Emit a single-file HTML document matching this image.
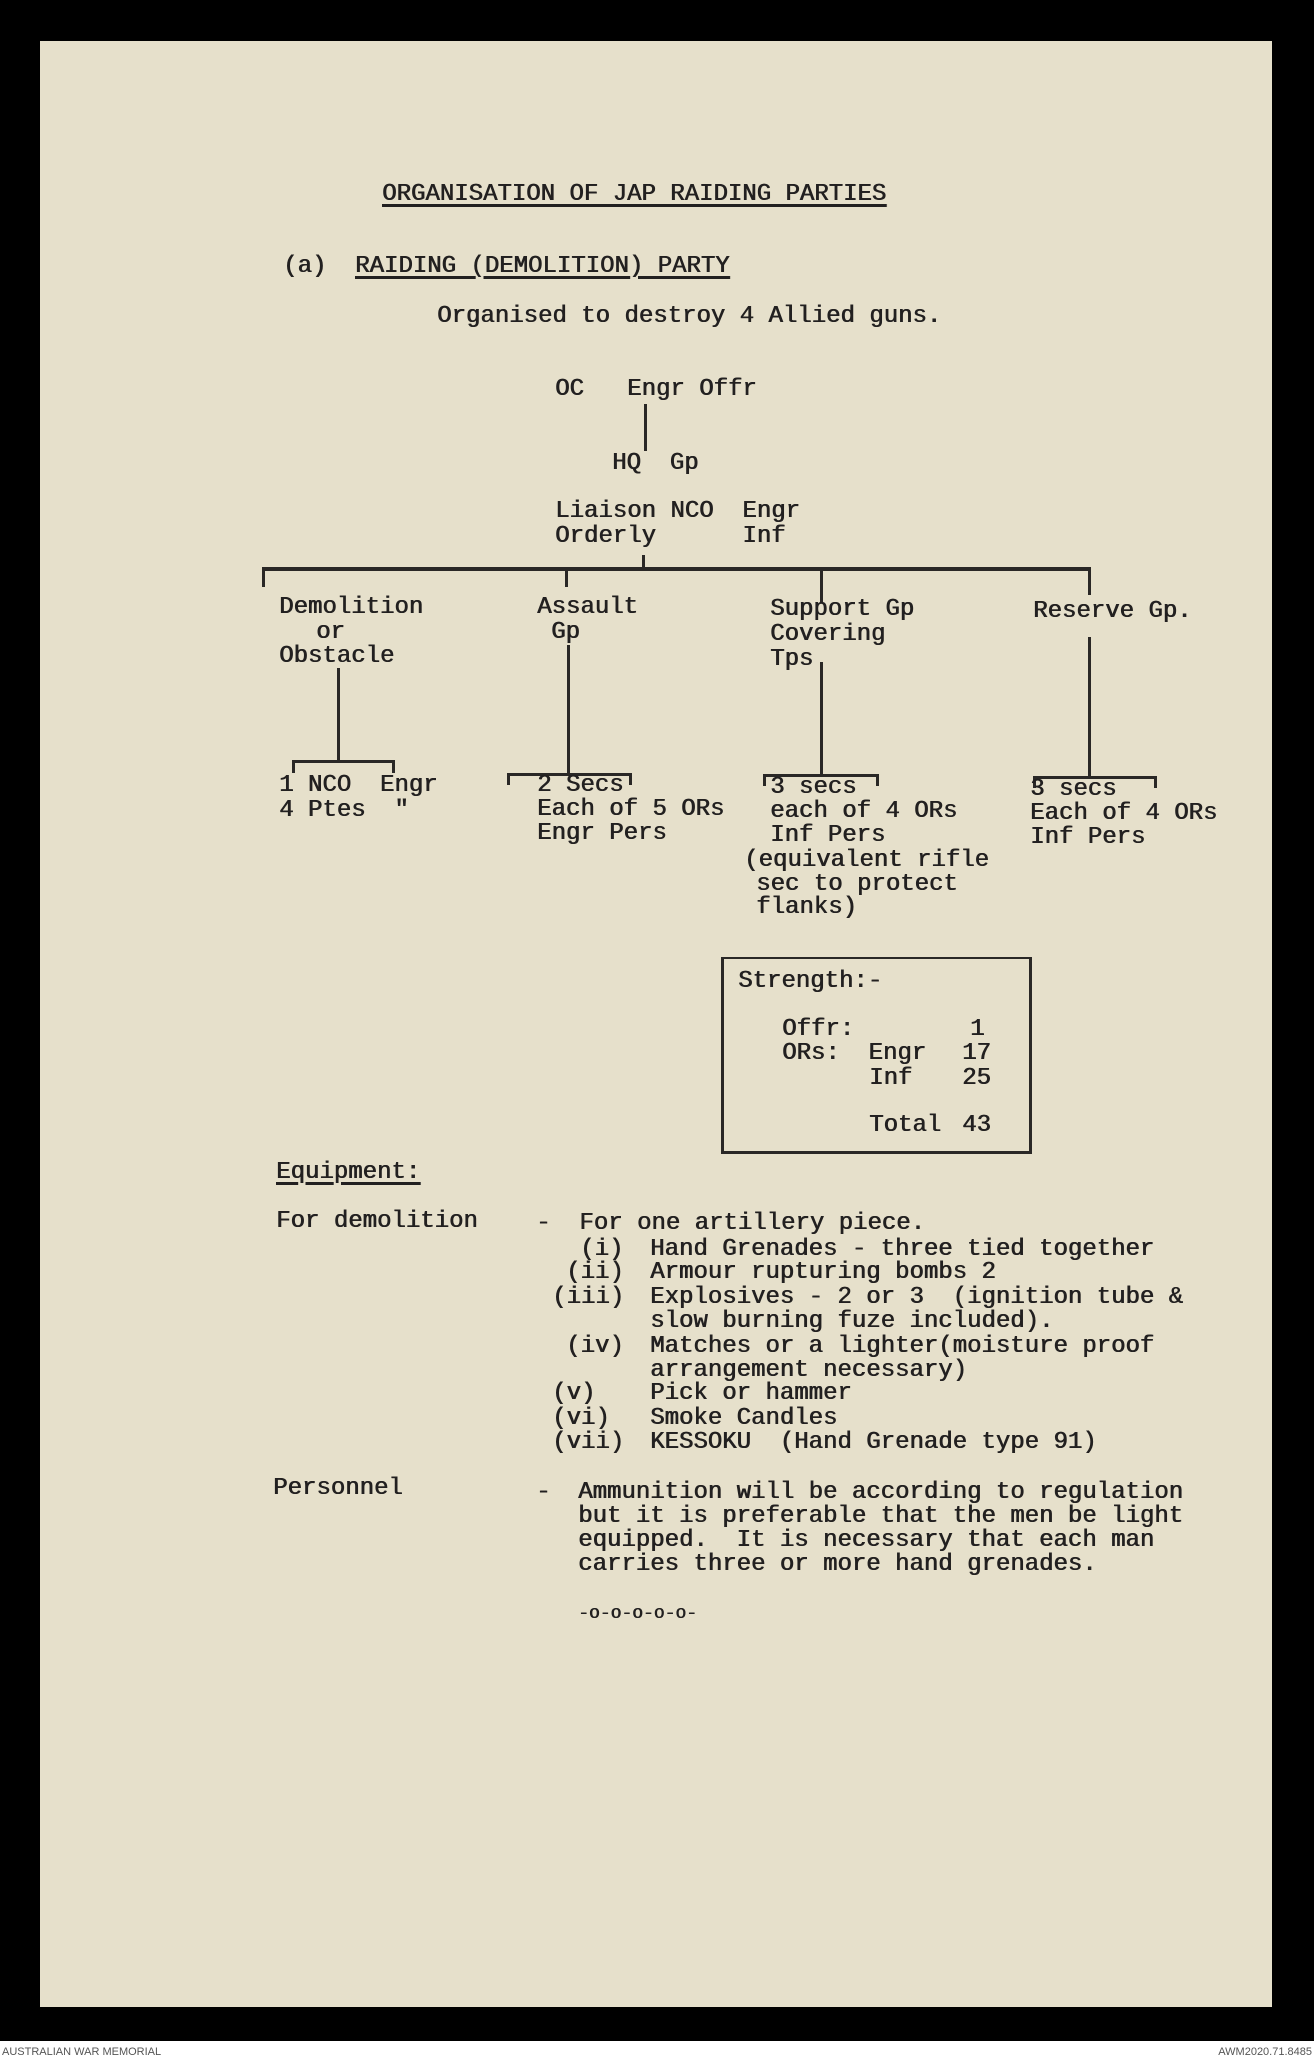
<!DOCTYPE html>
<html><head><meta charset="utf-8">
<style>
html,body{margin:0;padding:0;}
body{width:1314px;height:2061px;background:#000;position:relative;overflow:hidden;}
#paper{position:absolute;left:40px;top:41px;width:1232px;height:1966px;background:#e6e0cb;}
.t{position:absolute;font-family:"Liberation Mono",monospace;font-size:24px;line-height:24px;color:#222020;white-space:pre;text-shadow:0.7px 0 0 #222020;}
.u{text-decoration:underline;text-decoration-thickness:3px;text-underline-offset:4px;}
.l{position:absolute;background:#2a2826;}
#foot{position:absolute;left:0;top:2041px;width:1314px;height:20px;background:#fff;}
.f{position:absolute;top:2046px;font-family:"Liberation Sans",sans-serif;font-size:11px;color:#555;}
</style></head><body>
<div id="paper"></div>

<div class="t u" style="left:382px;top:183px;">ORGANISATION OF JAP RAIDING PARTIES</div>
<div class="t" style="left:283px;top:255px;">(a)</div>
<div class="t u" style="left:355px;top:255px;">RAIDING (DEMOLITION) PARTY</div>
<div class="t" style="left:437px;top:305px;">Organised to destroy 4 Allied guns.</div>

<div class="t" style="left:555px;top:378px;">OC   Engr Offr</div>
<div class="l" style="left:644px;top:404px;width:3px;height:47px;"></div>
<div class="t" style="left:612px;top:452px;">HQ  Gp</div>
<div class="t" style="left:555px;top:500px;">Liaison NCO  Engr</div>
<div class="t" style="left:555px;top:525px;">Orderly      Inf</div>

<div class="l" style="left:262px;top:567px;width:829px;height:4px;"></div>
<div class="l" style="left:262px;top:567px;width:3px;height:20px;"></div>
<div class="l" style="left:565px;top:567px;width:3px;height:20px;"></div>
<div class="l" style="left:820px;top:567px;width:3px;height:36px;"></div>
<div class="l" style="left:1088px;top:567px;width:3px;height:28px;"></div>
<div class="l" style="left:642px;top:555px;width:3px;height:12px;"></div>

<div class="t" style="left:279px;top:596px;">Demolition</div>
<div class="t" style="left:316px;top:621px;">or</div>
<div class="t" style="left:279px;top:645px;">Obstacle</div>
<div class="t" style="left:537px;top:596px;">Assault</div>
<div class="t" style="left:551px;top:621px;">Gp</div>
<div class="t" style="left:770px;top:598px;">Support Gp</div>
<div class="t" style="left:770px;top:623px;">Covering</div>
<div class="t" style="left:770px;top:648px;">Tps</div>
<div class="t" style="left:1033px;top:600px;">Reserve Gp.</div>

<div class="l" style="left:337px;top:668px;width:3px;height:94px;"></div>
<div class="l" style="left:292px;top:760px;width:103px;height:3px;"></div>
<div class="l" style="left:292px;top:760px;width:3px;height:13px;"></div>
<div class="l" style="left:392px;top:760px;width:3px;height:13px;"></div>

<div class="l" style="left:567px;top:645px;width:3px;height:130px;"></div>
<div class="l" style="left:507px;top:773px;width:125px;height:3px;"></div>
<div class="l" style="left:507px;top:773px;width:3px;height:12px;"></div>
<div class="l" style="left:629px;top:773px;width:3px;height:12px;"></div>

<div class="l" style="left:820px;top:662px;width:3px;height:114px;"></div>
<div class="l" style="left:763px;top:774px;width:116px;height:3px;"></div>
<div class="l" style="left:763px;top:774px;width:3px;height:12px;"></div>
<div class="l" style="left:876px;top:774px;width:3px;height:12px;"></div>

<div class="l" style="left:1088px;top:637px;width:3px;height:141px;"></div>
<div class="l" style="left:1033px;top:776px;width:124px;height:3px;"></div>
<div class="l" style="left:1033px;top:776px;width:3px;height:12px;"></div>
<div class="l" style="left:1154px;top:776px;width:3px;height:12px;"></div>

<div class="t" style="left:279px;top:774px;">1 NCO  Engr</div>
<div class="t" style="left:279px;top:799px;">4 Ptes  "</div>
<div class="t" style="left:537px;top:774px;">2 Secs</div>
<div class="t" style="left:537px;top:798px;">Each of 5 ORs</div>
<div class="t" style="left:537px;top:822px;">Engr Pers</div>
<div class="t" style="left:770px;top:776px;">3 secs</div>
<div class="t" style="left:770px;top:800px;">each of 4 ORs</div>
<div class="t" style="left:770px;top:824px;">Inf Pers</div>
<div class="t" style="left:744px;top:849px;">(equivalent rifle</div>
<div class="t" style="left:756px;top:873px;">sec to protect</div>
<div class="t" style="left:756px;top:896px;">flanks)</div>
<div class="t" style="left:1030px;top:778px;">3 secs</div>
<div class="t" style="left:1030px;top:802px;">Each of 4 ORs</div>
<div class="t" style="left:1030px;top:826px;">Inf Pers</div>

<div style="position:absolute;left:721px;top:957px;width:305px;height:192px;border:3px solid #2a2826;border-top-width:2px;"></div>
<div class="t" style="left:738px;top:970px;">Strength:-</div>
<div class="t" style="left:782px;top:1018px;">Offr:</div>
<div class="t" style="left:970px;top:1018px;">1</div>
<div class="t" style="left:782px;top:1042px;">ORs:  Engr</div>
<div class="t" style="left:962px;top:1042px;">17</div>
<div class="t" style="left:869px;top:1067px;">Inf</div>
<div class="t" style="left:962px;top:1067px;">25</div>
<div class="t" style="left:869px;top:1114px;">Total</div>
<div class="t" style="left:962px;top:1114px;">43</div>

<div class="t u" style="left:276px;top:1161px;">Equipment:</div>
<div class="t" style="left:276px;top:1210px;">For demolition</div>
<div class="t" style="left:536px;top:1212px;">-  For one artillery piece.</div>
<div class="t" style="left:580px;top:1238px;">(i)</div>
<div class="t" style="left:566px;top:1261px;">(ii)</div>
<div class="t" style="left:552px;top:1286px;">(iii)</div>
<div class="t" style="left:566px;top:1335px;">(iv)</div>
<div class="t" style="left:552px;top:1382px;">(v)</div>
<div class="t" style="left:552px;top:1407px;">(vi)</div>
<div class="t" style="left:552px;top:1431px;">(vii)</div>
<div class="t" style="left:650px;top:1238px;">Hand Grenades - three tied together</div>
<div class="t" style="left:650px;top:1261px;">Armour rupturing bombs 2</div>
<div class="t" style="left:650px;top:1286px;">Explosives - 2 or 3  (ignition tube &amp;</div>
<div class="t" style="left:650px;top:1310px;">slow burning fuze included).</div>
<div class="t" style="left:650px;top:1335px;">Matches or a lighter(moisture proof</div>
<div class="t" style="left:650px;top:1359px;">arrangement necessary)</div>
<div class="t" style="left:650px;top:1382px;">Pick or hammer</div>
<div class="t" style="left:650px;top:1407px;">Smoke Candles</div>
<div class="t" style="left:650px;top:1431px;">KESSOKU  (Hand Grenade type 91)</div>

<div class="t" style="left:273px;top:1477px;">Personnel</div>
<div class="t" style="left:536px;top:1481px;">-</div>
<div class="t" style="left:578px;top:1481px;">Ammunition will be according to regulation</div>
<div class="t" style="left:578px;top:1505px;">but it is preferable that the men be light</div>
<div class="t" style="left:578px;top:1529px;">equipped.  It is necessary that each man</div>
<div class="t" style="left:578px;top:1553px;">carries three or more hand grenades.</div>
<div class="t" style="left:578px;top:1602px;font-size:18px;">-o-o-o-o-o-</div>

<div id="foot"></div>
<div class="f" style="left:2px;">AUSTRALIAN WAR MEMORIAL</div>
<div class="f" style="right:2px;">AWM2020.71.8485</div>
</body></html>
